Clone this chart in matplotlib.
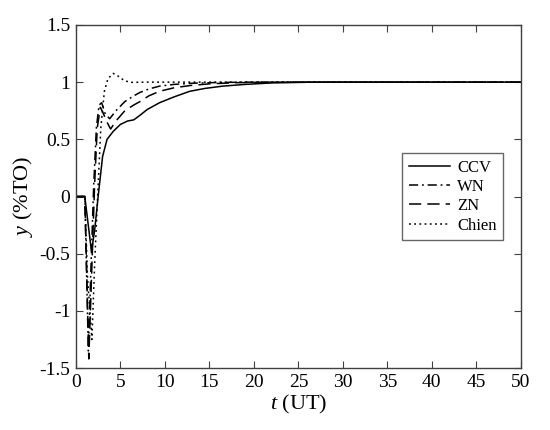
import matplotlib
matplotlib.use("Agg")
import matplotlib.pyplot as plt

plt.rcParams['font.family'] = ['Liberation Serif', 'DejaVu Serif']
plt.rcParams['mathtext.fontset'] = 'custom'
plt.rcParams['mathtext.rm'] = 'Liberation Serif'
plt.rcParams['mathtext.it'] = 'Liberation Serif:italic'

# Data
t_ccv = [0, 1.0, 1.75, 2.1, 2.5, 3.0, 3.5, 4.2, 5.0, 5.8, 6.5, 7.2, 8.0, 9.4, 11, 12.8, 14.5, 16.5, 19, 22, 26, 30, 50]
y_ccv = [0, 0, -0.48, -0.3, 0.0, 0.35, 0.5, 0.57, 0.63, 0.66, 0.67, 0.71, 0.76, 0.82, 0.87, 0.92, 0.945, 0.965, 0.98, 0.993, 0.999, 1.0, 1.0]

t_wn = [0, 1.0, 1.4, 1.7, 2.0, 2.3, 2.6, 2.9, 3.3, 3.8, 4.5, 5.5, 6.5, 7.2, 8.2, 9.4, 11, 13, 16, 20, 50]
y_wn = [0, 0, -1.35, -0.6, 0.1, 0.6, 0.8, 0.82, 0.72, 0.68, 0.75, 0.83, 0.88, 0.91, 0.94, 0.965, 0.98, 0.99, 0.997, 1.0, 1.0]

t_zn = [0, 1.0, 1.45, 1.8, 2.1, 2.4, 2.75, 3.0, 3.5, 3.9, 4.5, 5.5, 6.5, 7.2, 8.2, 9.4, 11, 12.8, 15, 18, 22, 50]
y_zn = [0, 0, -1.42, -0.6, 0.1, 0.6, 0.78, 0.74, 0.65, 0.59, 0.66, 0.75, 0.8, 0.83, 0.88, 0.92, 0.95, 0.97, 0.985, 0.995, 1.0, 1.0]

t_chien = [0, 1.0, 1.3, 1.8, 2.1, 2.5, 2.8, 3.2, 3.6, 4.2, 4.8, 5.5, 6.3, 8, 50]
y_chien = [0, 0, -0.7, -1.25, -0.6, 0.1, 0.6, 0.92, 1.03, 1.076, 1.05, 1.01, 0.998, 1.0, 1.0]

labels = ['CCV', 'WN', 'ZN', 'Chien']
xticks = [0, 5, 10, 15, 20, 25, 30, 35, 40, 45, 50]
yticks = [-1.5, -1, -0.5, 0, 0.5, 1, 1.5]
yticklabels = ['-1.5', '-1', '-0.5', '0', '0.5', '1', '1.5']

fig = plt.figure(figsize=(5.5, 4.3), dpi=100)
ax = fig.add_axes([0.138, 0.144, 0.809, 0.798])

lw = 1.1
ax.plot(t_ccv, y_ccv, color='black', lw=lw, linestyle='-', label=labels[0])
ax.plot(t_wn, y_wn, color='black', lw=lw, linestyle=(0, (6, 2.5, 1.2, 2.5)), label=labels[1])
ax.plot(t_zn, y_zn, color='black', lw=lw, linestyle=(0, (8, 4)), label=labels[2])
ax.plot(t_chien, y_chien, color='black', lw=lw, linestyle=(0, (1.2, 2.2)), label=labels[3])

ax.set_xlim(0, 50)
ax.set_ylim(-1.5, 1.5)
ax.set_xticks(xticks)
ax.set_xticklabels([str(x) for x in xticks])
ax.set_yticks(yticks)
ax.set_yticklabels(yticklabels)
ax.tick_params(direction='in', top=True, right=True, labelsize=14, length=5,
               color='#404040', width=0.8, pad=4)
for s in ax.spines.values():
    s.set_color('#404040')
    s.set_linewidth(1.0)

ax.set_xlabel(r'$t$ (UT)', fontsize=16, labelpad=2)
ax.set_ylabel(r'$y$ (%TO)', fontsize=16, labelpad=3)

leg = ax.legend(loc='center left', bbox_to_anchor=(0.733, 0.5), fontsize=12,
                frameon=True, fancybox=False, edgecolor='#404040',
                handlelength=2.5, handletextpad=0.4, borderpad=0.4,
                labelspacing=0.2, borderaxespad=0)
leg.get_frame().set_linewidth(1.0)

fig.savefig('out.png', dpi=100)
